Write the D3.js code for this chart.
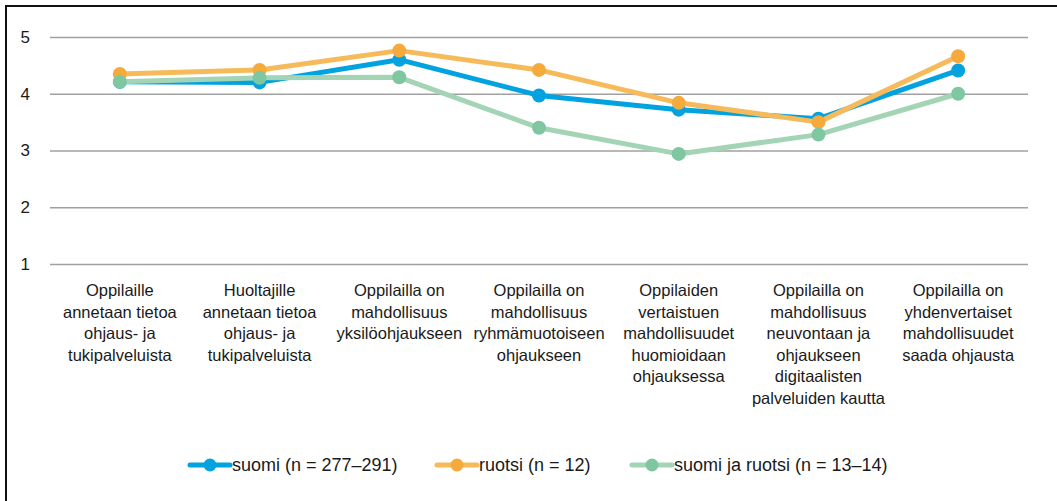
<!DOCTYPE html>
<html>
<head>
<meta charset="utf-8">
<script src="https://cdn.jsdelivr.net/npm/d3@7"></script>
<style>
  body { margin: 0; background: #fff; }
  text { font-family: "Liberation Sans", Arial, sans-serif; fill: #1a1a1a; }
</style>
</head>
<body>
<div id="chart"></div>
<script>
// categories, split into the lines used in the picture
var categories = [
    ["Oppilaille", "annetaan tietoa", "ohjaus- ja", "tukipalveluista"],
    ["Huoltajille", "annetaan tietoa", "ohjaus- ja", "tukipalveluista"],
    ["Oppilailla on", "mahdollisuus", "yksilöohjaukseen"],
    ["Oppilailla on", "mahdollisuus", "ryhmämuotoiseen", "ohjaukseen"],
    ["Oppilaiden", "vertaistuen", "mahdollisuudet", "huomioidaan", "ohjauksessa"],
    ["Oppilailla on", "mahdollisuus", "neuvontaan ja", "ohjaukseen", "digitaalisten", "palveluiden kautta"],
    ["Oppilailla on", "yhdenvertaiset", "mahdollisuudet", "saada ohjausta"]
];
var yTicks = [1, 2, 3, 4, 5];

var seriesNames = ["suomi (n = 277–291)", "ruotsi (n = 12)", "suomi ja ruotsi (n = 13–14)"];
var suomi = [4.21, 4.20, 4.60, 3.97, 3.72, 3.56, 4.41];
var ruotsi = [4.35, 4.42, 4.76, 4.42, 3.84, 3.50, 4.66];
var suomiRuotsi = [4.21, 4.28, 4.29, 3.40, 2.94, 3.28, 4.00];

var lineColors = ["#00A3E0", "#F7BA5A", "#A3D4B5"];
var dotColors = ["#05A2DF", "#F5AA3C", "#7FC7A0"];

var width = 1057, height = 501;
var plotLeft = 50, plotRight = 1028, plotTop = 37, plotBottom = 264;

var svg = d3.select("#chart")
    .append("svg")
    .attr("width", width)
    .attr("height", height);

// frame (right and bottom edges are cropped in the picture)
svg.append("rect")
    .attr("x", 6).attr("y", 6)
    .attr("width", width + 20).attr("height", height + 20)
    .attr("fill", "none")
    .attr("stroke", "#111")
    .attr("stroke-width", 2);

var keys = categories.map(function(d, i) { return "c" + i; });

var x = d3.scaleBand()
    .domain(keys)
    .range([plotLeft, plotRight]);

var y = d3.scaleLinear()
    .domain([1, 5])
    .range([plotBottom, plotTop]);

function cx(i) { return x(keys[i]) + x.bandwidth() / 2; }

// y axis + gridlines
var yAxis = svg.append("g")
    .attr("transform", "translate(" + plotLeft + ",0)")
    .call(d3.axisLeft(y).tickValues(yTicks).tickSize(-(plotRight - plotLeft)).tickPadding(20).tickFormat(d3.format("d")));
yAxis.select(".domain").remove();
yAxis.selectAll(".tick line").attr("stroke", "#a0a0a0").attr("stroke-width", 1.5);
yAxis.selectAll(".tick text").style("font-size", "17px").attr("fill", "#1a1a1a");

// category labels
var catLabels = svg.append("g").selectAll("text")
    .data(categories)
    .enter().append("text")
    .attr("text-anchor", "middle")
    .style("font-size", "16.5px")
    .attr("transform", function(d, i) { return "translate(" + cx(i) + ",296)"; });

catLabels.selectAll("tspan")
    .data(function(d) { return d; })
    .enter().append("tspan")
    .attr("x", 0)
    .attr("y", function(d, i) { return i * 21.5; })
    .text(function(d) { return d; });

// lines
var allSeries = [suomi, ruotsi, suomiRuotsi];

var line = d3.line()
    .x(function(d, i) { return cx(i); })
    .y(function(d) { return y(d); });

allSeries.forEach(function(values, s) {
    var g = svg.append("g");
    g.append("path")
        .datum(values)
        .attr("d", line)
        .attr("fill", "none")
        .attr("stroke", lineColors[s])
        .attr("stroke-width", 5)
        .attr("stroke-linejoin", "round");
    g.selectAll("circle")
        .data(values)
        .enter().append("circle")
        .attr("cx", function(d, i) { return cx(i); })
        .attr("cy", function(d) { return y(d); })
        .attr("r", 7)
        .attr("fill", dotColors[s]);
});

// legend
var legendX = [188, 435, 630];
var legendY = 465;
var legend = svg.append("g").selectAll("g")
    .data(seriesNames)
    .enter().append("g")
    .attr("transform", function(d, i) { return "translate(" + legendX[i] + "," + legendY + ")"; });

legend.append("line")
    .attr("x1", 2).attr("x2", 42)
    .attr("stroke", function(d, i) { return lineColors[i]; })
    .attr("stroke-width", 5)
    .attr("stroke-linecap", "round");
legend.append("circle")
    .attr("cx", 22).attr("r", 6.5)
    .attr("fill", function(d, i) { return dotColors[i]; });
legend.append("text")
    .attr("x", 44)
    .attr("dy", "0.35em")
    .style("font-size", "18px")
    .text(function(d) { return d; });
</script>
</body>
</html>
